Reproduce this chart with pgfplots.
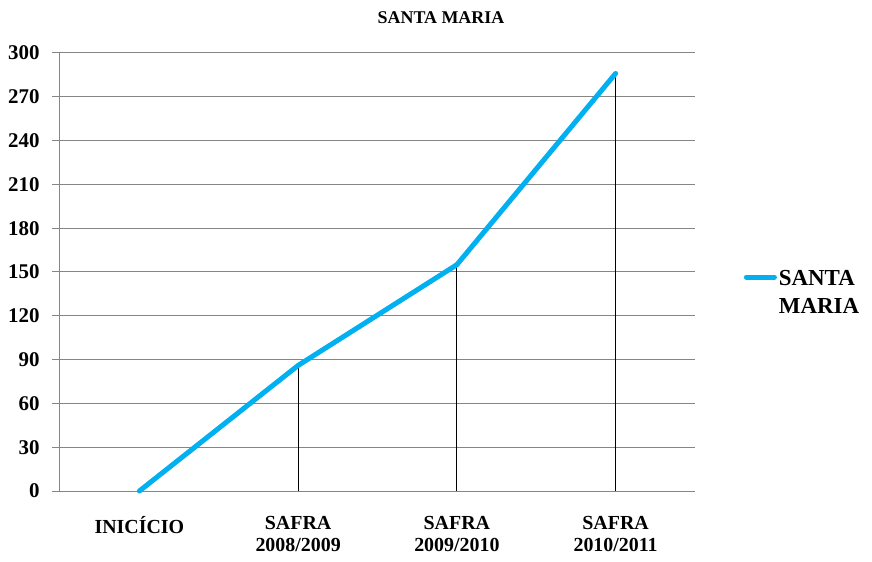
\documentclass[border=0pt]{standalone}
\usepackage{pgfplots}
\pgfplotsset{compat=1.18}
\usepackage{fontspec}
\setmainfont{Liberation Serif}
\definecolor{linecyan}{HTML}{00B0F0}
\definecolor{gridgray}{HTML}{868686}
\begin{document}
\begin{tikzpicture}
\useasboundingbox (-60bp,-71bp) rectangle (812bp,491bp);
\begin{axis}[
    at={(0,0)}, anchor=south west,
    scale only axis, width=635bp, height=438bp,
    xmin=0, xmax=4, ymin=0, ymax=300,
    axis x line*=bottom, axis y line*=left,
    axis line style={gridgray, line width=1bp},
    ytick={0,30,...,300},
    xtick={0.5,1.5,2.5,3.5},
    xticklabels={{INICÍCIO},{SAFRA\\2008/2009},{SAFRA\\2009/2010},{SAFRA\\2010/2011}},
    x tick label style={align=center, font=\bfseries\fontsize{20}{22}\selectfont, yshift=-14bp},
    y tick label style={font=\bfseries\fontsize{21}{22}\selectfont, xshift=-9bp},
    /pgf/number format/assume math mode=true,
    ymajorgrids, grid style={gridgray, line width=1bp},
    tick align=outside,
    major tick length=8bp,
    tick style={gridgray, line width=1bp},
    x tick style={draw=none},
    clip=false,
    legend style={at={(1.072,0.452)}, anchor=west, draw=none, fill=none,
        font=\bfseries\fontsize{23}{28}\selectfont, cells={align=left}},
    legend image code/.code={\draw[#1] (0bp,16bp) -- (28bp,16bp);},
]
\addplot[ycomb, black, line width=1bp, forget plot] coordinates {
    (0.5,0) (1.5,86) (2.5,155) (3.5,286)
};
\addplot[linecyan, line width=5bp, line cap=round, line join=round] coordinates {
    (0.5,0) (1.5,86) (2.5,155) (3.5,286)
};
\addlegendentry{SANTA\\MARIA}
\end{axis}
\node[font=\bfseries\fontsize{18}{20}\selectfont] at (381bp,473bp) {SANTA MARIA};
\end{tikzpicture}
\end{document}
